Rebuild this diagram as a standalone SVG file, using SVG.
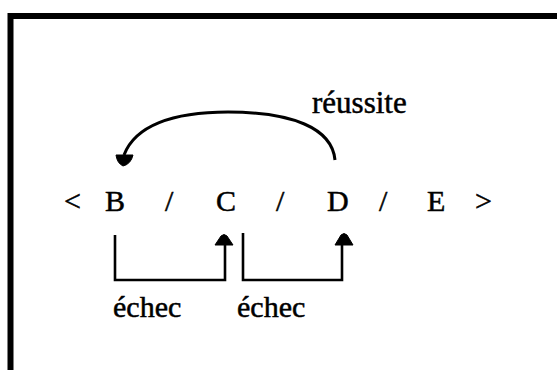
<svg xmlns="http://www.w3.org/2000/svg" width="557" height="370" viewBox="0 0 557 370">
<style>
.t{font-family:"Liberation Serif","Times New Roman",serif;font-size:30px;fill:#000;stroke:#000;stroke-width:0.5}
.ln{fill:none;stroke:#000;stroke-width:2.6;stroke-linecap:butt;stroke-linejoin:miter}
.ah{fill:#000;stroke:#000;stroke-width:1;stroke-linejoin:round}
</style>
<rect width="557" height="370" fill="#fff"/>
<rect x="10.5" y="16" width="600" height="400" fill="none" stroke="#000" stroke-width="6"/>
<g id="seq">
<text class="t" x="64" y="211">&lt;</text>
<text class="t" x="105" y="211">B</text>
<text class="t" x="165" y="211">/</text>
<text class="t" x="216" y="211">C</text>
<text class="t" x="276" y="211">/</text>
<text class="t" x="327" y="211">D</text>
<text class="t" x="379" y="211">/</text>
<text class="t" x="427" y="211">E</text>
<text class="t" x="475" y="211">&gt;</text>
</g>
<g id="label-reussite"><text class="t" x="312" y="113" style="font-size:31px">réussite</text></g>
<g id="label-echec1"><text class="t" x="113" y="317">échec</text></g>
<g id="label-echec2"><text class="t" x="237" y="317">échec</text></g>
<g id="connectors">
<path class="ln" d="M335 160 C332 128 292 112 228 112 C172 112 135 126 124 155" style="stroke-width:3"/>
<path class="ah" d="M116 155 L133 155 Q131 164 123 166 Q117 163 116 155 Z"/>
<path class="ln" d="M115 235 L115 280 L225 280 L225 244"/>
<path class="ah" d="M215 245 L221 236 Q224 233 227 236 L233 245 Z"/>
<path class="ln" d="M243 233 L243 280 L342 280 L342 244"/>
<path class="ah" d="M335 245 L341 235 Q344 232 347 235 L353 245 Z"/>
</g>
</svg>
